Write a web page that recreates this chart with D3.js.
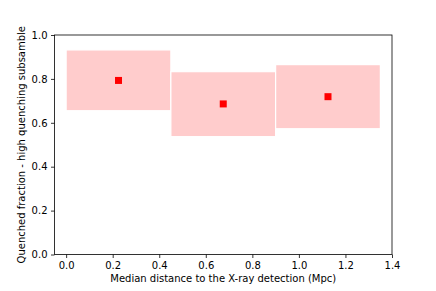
<!DOCTYPE html>
<html>
<head>
<meta charset="utf-8">
<script src="https://cdn.jsdelivr.net/npm/d3@7"></script>
<style>
  body { margin: 0; background: #fff; }
  text { font-family: "DejaVu Sans", sans-serif; }
</style>
</head>
<body>
<div id="chart"></div>
<script>
// data
const binLow   = [0.0, 0.45, 0.9];
const binHigh  = [0.45, 0.9, 1.35];
const medianX  = [0.225, 0.675, 1.125];
const fraction = [0.793, 0.686, 0.719];
const errLow   = [0.655, 0.537, 0.573];
const errHigh  = [0.932, 0.833, 0.865];
const xTicks = [0.0, 0.2, 0.4, 0.6, 0.8, 1.0, 1.2, 1.4];
const yTicks = [0.0, 0.2, 0.4, 0.6, 0.8, 1.0];

const width = 436, height = 291;
const margin = {left: 54.5, right: 44, top: 35, bottom: 36.5};

const svg = d3.select("#chart").append("svg")
    .attr("width", width)
    .attr("height", height);

const x = d3.scaleLinear()
    .domain([-0.05, 1.4])
    .range([margin.left, width - margin.right]);
const y = d3.scaleLinear()
    .domain([0, 1])
    .range([height - margin.bottom, margin.top]);

const data = medianX.map((m, i) => ({
    lo: binLow[i], hi: binHigh[i], x: m, y: fraction[i], e0: errLow[i], e1: errHigh[i]
}));

// shaded error boxes
svg.selectAll(".box")
    .data(data)
    .enter()
    .append("rect")
        .attr("class", "box")
        .attr("x", d => x(d.lo))
        .attr("y", d => y(d.e1))
        .attr("width", d => x(d.hi) - x(d.lo))
        .attr("height", d => y(d.e0) - y(d.e1))
        .attr("fill", "#ffcccc")
        .attr("stroke", "#fff")
        .attr("stroke-width", 1.2);

// points
const ms = 7;
svg.selectAll(".pt")
    .data(data)
    .enter()
    .append("rect")
        .attr("class", "pt")
        .attr("x", d => x(d.x) - ms / 2)
        .attr("y", d => y(d.y) - ms / 2)
        .attr("width", ms)
        .attr("height", ms)
        .attr("fill", "#ff0000");

// axes
const xAxis = svg.append("g")
    .attr("transform", `translate(0,${height - margin.bottom})`)
    .call(d3.axisBottom(x).tickValues(xTicks).tickFormat(d3.format(".1f")).tickSizeOuter(0).tickSize(3.5).tickPadding(3.5));
const yAxis = svg.append("g")
    .attr("transform", `translate(${margin.left},0)`)
    .call(d3.axisLeft(y).tickValues(yTicks).tickFormat(d3.format(".1f")).tickSizeOuter(0).tickSize(3.5).tickPadding(3.5));

[xAxis, yAxis].forEach(a => {
    a.select(".domain").remove();
    a.selectAll("text").attr("font-size", 10).attr("fill", "#000")
        .attr("font-family", "DejaVu Sans, sans-serif");
    a.selectAll("line").attr("stroke", "#000").attr("stroke-width", 0.8);
});

// frame
svg.append("rect")
    .attr("x", margin.left)
    .attr("y", margin.top)
    .attr("width", width - margin.left - margin.right)
    .attr("height", height - margin.top - margin.bottom)
    .attr("fill", "none")
    .attr("stroke", "#000")
    .attr("stroke-width", 0.8);

// labels
svg.append("text")
    .attr("x", (margin.left + width - margin.right) / 2)
    .attr("y", 282)
    .attr("text-anchor", "middle")
    .attr("font-size", 10)
    .text("Median distance to the X-ray detection (Mpc)");

svg.append("text")
    .attr("transform", `translate(24.5,${(margin.top + height - margin.bottom) / 2}) rotate(-90)`)
    .attr("text-anchor", "middle")
    .attr("font-size", 10)
    .text("Quenched fraction - high quenching subsamble");
</script>
</body>
</html>
